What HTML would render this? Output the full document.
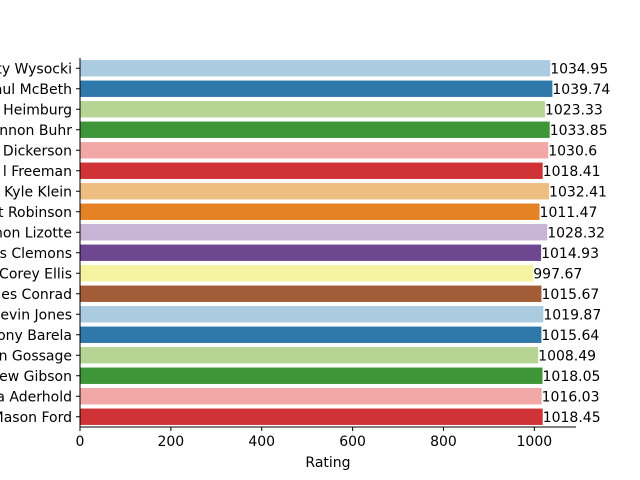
<!DOCTYPE html>
<html><head><meta charset="utf-8"><style>body{margin:0;background:#fff}svg{display:block;font-family:"DejaVu Sans","Liberation Sans",sans-serif}</style></head>
<body>
<svg id="chart" width="640" height="480" viewBox="0 0 640 480"></svg>
<script>
const names=["ty Wysocki","aul McBeth","Heimburg","nnon Buhr","Dickerson","l Freeman","Kyle Klein","t Robinson","non Lizotte","s Clemons","Corey Ellis","es Conrad","evin Jones","ony Barela","n Gossage","ew Gibson","a Aderhold","Mason Ford"];
const ratings=[1034.95,1039.74,1023.33,1033.85,1030.6,1018.41,1032.41,1011.47,1028.32,1014.93,997.67,1015.67,1019.87,1015.64,1008.49,1018.05,1016.03,1018.45];
const ratingLabels=["1034.95","1039.74","1023.33","1033.85","1030.6","1018.41","1032.41","1011.47","1028.32","1014.93","997.67","1015.67","1019.87","1015.64","1008.49","1018.05","1016.03","1018.45"];
const xTicks=[0,200,400,600,800,1000];
const colors=["#abcbe0","#2f79aa","#b6d595","#3f9638","#f2a8a7","#cf3336","#edbe7f","#e58324","#c8b4d4","#6d4790","#f5f2a0","#a35c38"];
const L=80,R=576,T=58,B=427;
const xmax=Math.max(...ratings)*1.05;
const x=v=>L+v/xmax*(R-L);
const band=(B-T)/names.length;
const yc=i=>T+band*(i+0.5);
const svg=document.getElementById('chart');
const NS="http://www.w3.org/2000/svg";
const FS=14;
function mk(t,a,txt){const e=document.createElementNS(NS,t);for(const k in a)e.setAttribute(k,a[k]);if(txt!=null)e.textContent=txt;svg.appendChild(e);return e;}
names.forEach((n,i)=>{
  const r=mk('rect',{x:L,y:yc(i)-band*0.4,width:x(ratings[i])-L,height:band*0.8,fill:colors[i%colors.length]});
  
  
  const t=mk('text',{x:x(ratings[i]),y:yc(i)+5,'font-size':FS,fill:'#000'},ratingLabels[i]);
  
  
  const tk=mk('line',{x1:L-4,x2:L,y1:yc(i),y2:yc(i),stroke:'#000','stroke-width':1});
  
  
  const yl=mk('text',{x:L-8,y:yc(i)+5,'font-size':FS,'text-anchor':'end',fill:'#000'},n);
  
  
});
xTicks.forEach(v=>{
  const tk=mk('line',{x1:x(v),x2:x(v),y1:B,y2:B+4,stroke:'#000','stroke-width':1});
  
  
  const tl=mk('text',{x:x(v),y:B+19,'font-size':FS,'text-anchor':'middle',fill:'#000'},String(v));
  
  
});
const ay=mk('line',{x1:L,x2:L,y1:T,y2:B,stroke:'#000','stroke-width':1});


const ax=mk('line',{x1:L,x2:R,y1:B,y2:B,stroke:'#000','stroke-width':1});


const xt=mk('text',{x:(L+R)/2,y:467,'font-size':FS,'text-anchor':'middle',fill:'#000'},'Rating');


</script>
</body></html>
